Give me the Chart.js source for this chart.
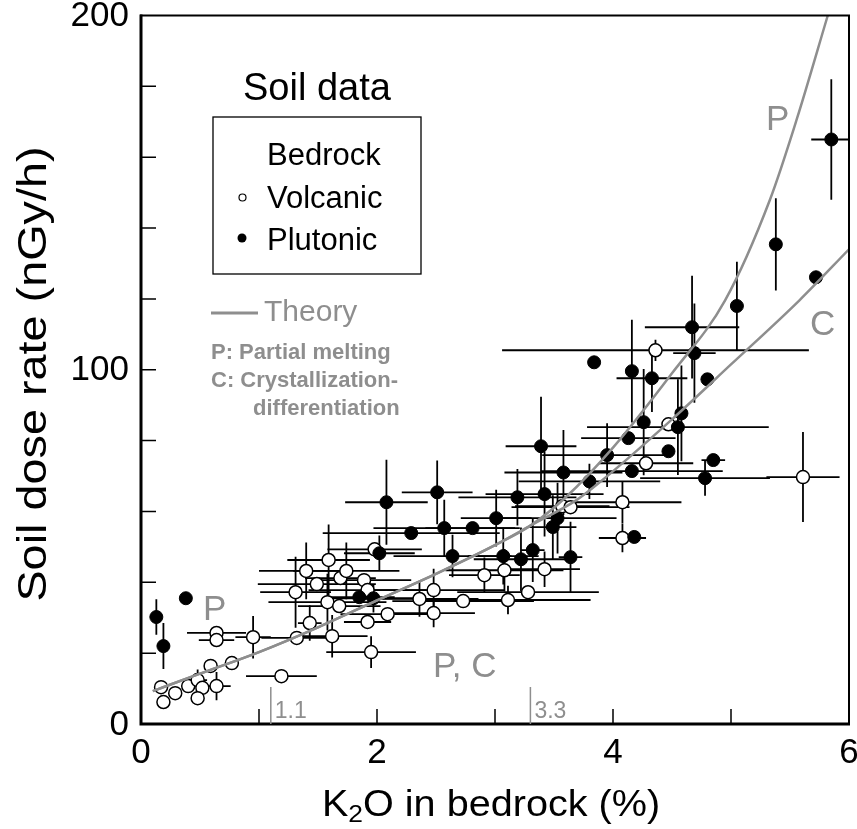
<!DOCTYPE html>
<html>
<head>
<meta charset="utf-8">
<script src="https://cdn.jsdelivr.net/npm/chart.js@4"></script>
<style>
  html, body { margin: 0; padding: 0; background: #fff; }
  #wrap { width: 857px; height: 829px; }
</style>
</head>
<body>
<div id="wrap"><canvas id="soil" width="857" height="829"></canvas></div>
<script>
// volcanic bedrock (open circles)
const volcanicX = [0.17, 0.19, 0.29, 0.40, 0.48, 0.52, 0.48, 0.64, 0.59, 0.77, 0.64, 0.64, 0.95, 1.19, 1.32, 1.31, 1.43, 1.40, 1.49, 1.59,
  1.58, 1.62, 1.68, 1.69, 1.74, 1.89, 1.92, 1.92, 1.95, 1.98, 2.09, 2.36, 2.48, 2.48, 2.73, 2.91, 3.08, 3.11, 3.28, 3.42,
  3.57, 3.64, 4.08, 4.08, 4.28, 4.47, 4.36, 5.61];
const volcanicY = [10.4, 6.2, 8.7, 10.7, 12.4, 10.2, 7.3, 10.7, 16.4, 17.2, 25.7, 23.7, 24.5, 13.5, 24.3, 37.2, 28.5, 43.2, 39.5, 46.3,
  34.4, 24.8, 33.3, 41.2, 43.2, 40.6, 37.8, 28.8, 20.3, 49.3, 31.0, 35.3, 37.8, 31.3, 34.7, 42.0, 43.4, 35.0, 37.2, 43.7,
  61.5, 61.2, 62.6, 52.5, 73.6, 84.6, 105.5, 69.7];
const volcanicXErr = [0.05, 0, 0, 0, 0.08, 0, 0, 0.12, 0, 0, 0.25, 0.15, 0.15, 0.3, 0.3, 0.3, 0.1, 0.4, 0.5, 0.35,
  0.5, 0.3, 0.35, 0.3, 0.45, 0.4, 0.5, 0.2, 0.38, 0.4, 0.4, 0.5, 0.6, 0.35, 0.6, 0.3, 0.5, 0.7, 0.6, 0.3,
  0.4, 0.5, 0.5, 0.2, 0.4, 0, 1.3, 0.31];
const volcanicYErr = [0, 0, 0, 0, 3, 0, 0, 4, 0, 0, 0, 0, 6, 0, 0, 10, 5, 8, 0, 10,
  8, 6, 0, 0, 8, 0, 0, 0, 4.5, 0, 0, 5, 6, 4, 0, 5, 6, 4, 0, 5,
  0, 0, 6, 4, 0, 0, 3, 12.7];

// plutonic bedrock (filled circles)
const plutonicX = [0.13, 0.19, 0.38, 1.85, 1.97, 2.02, 2.08, 2.29, 2.51, 2.57, 2.64, 2.81, 3.01, 3.07, 3.22, 3.32, 3.19, 3.42, 3.39, 3.49,
  3.53, 3.58, 3.64, 3.80, 3.84, 3.95, 4.16, 4.13, 4.16, 4.18, 4.26, 4.33, 4.47, 4.55, 4.58, 4.67, 4.69, 4.78, 4.80, 4.85,
  5.05, 5.38, 5.72, 5.85];
const plutonicY = [30.2, 22.0, 35.5, 35.8, 35.5, 48.2, 62.6, 53.9, 65.4, 55.3, 47.4, 55.3, 58.1, 47.4, 46.5, 49.1, 64.0, 64.9, 78.4, 55.6,
  58.1, 71.0, 47.1, 68.5, 102.1, 75.9, 71.4, 80.7, 99.6, 52.8, 85.2, 97.6, 77.0, 83.8, 87.7, 112.0, 104.7, 69.4, 97.3, 74.5,
  118.0, 135.4, 126.1, 165.0];
const plutonicXErr = [0, 0, 0, 0.3, 0.4, 0.3, 0.35, 0.75, 0.3, 0.6, 0.5, 0.4, 0.3, 0.3, 0.4, 0.1, 0.5, 0.5, 0.3, 0.2,
  0.5, 0.5, 0.1, 0.6, 0, 0.55, 0.77, 0.4, 0, 0, 0, 0.3, 0, 0.77, 0, 0.4, 0.18, 0.55, 0, 0.1,
  0, 0, 0, 0.17];
const plutonicYErr = [5, 6.5, 0, 0, 4, 5, 12, 0, 9, 8, 6, 0, 8, 8, 9, 9, 8, 12, 14, 9,
  10, 12, 10, 5, 0, 9, 0, 0, 14.5, 0, 15, 9.5, 0, 13.5, 13.5, 14.5, 14, 5, 0, 0,
  12.5, 13, 0, 17];

// theory curves (common part up to 3.3 %)
const commonX = [0.1, 0.5, 1.0, 1.5, 2.0, 2.5, 3.0, 3.3];
const commonY = [9.3, 14.2, 20.3, 27.3, 34.9, 42.4, 50.5, 56];
const meltX = [3.6, 4.0, 4.5, 4.95, 5.33, 5.56, 5.82];
const meltY = [64, 78, 99, 119.6, 148, 171, 200];
const crystX = [3.69, 3.89, 4.5, 5.0, 5.58, 6.0];
const crystY = [63.2, 68.3, 86, 101.5, 119.6, 134];

const xLabelTicks = [0, 2, 4, 6];
const yLabelTicks = [0, 100, 200];
const xMinorTicks = [1, 2, 3, 4, 5];
const yMinorTicks = [20, 40, 60, 80, 100, 120, 140, 160, 180];
const markX = [1.1, 3.3];
const markLabels = ['1.1', '3.3'];

const GREY = '#8e8e8e';
const FONT = '"Liberation Sans", Arial, sans-serif';

function toPoints(xs, ys) {
  return xs.map((x, i) => ({ x: x, y: ys[i] }));
}

const meltPts = toPoints(commonX.concat(meltX), commonY.concat(meltY));
const crystPts = toPoints(commonX.concat(crystX), commonY.concat(crystY));

const errorBars = {
  id: 'errorBars',
  beforeDatasetsDraw(chart) {
    const ctx = chart.ctx;
    const xs = chart.scales.x, ys = chart.scales.y;
    const a = chart.chartArea;
    const sets = [
      [volcanicX, volcanicY, volcanicXErr, volcanicYErr],
      [plutonicX, plutonicY, plutonicXErr, plutonicYErr],
    ];
    ctx.save();
    ctx.beginPath();
    ctx.rect(a.left, a.top, a.right - a.left, a.bottom - a.top);
    ctx.clip();
    ctx.strokeStyle = '#000';
    ctx.lineWidth = 1.8;
    sets.forEach(([X, Y, EX, EY]) => {
      X.forEach((x, i) => {
        const px = xs.getPixelForValue(x), py = ys.getPixelForValue(Y[i]);
        ctx.beginPath();
        if (EX[i] > 0) {
          ctx.moveTo(xs.getPixelForValue(x - EX[i]), py);
          ctx.lineTo(xs.getPixelForValue(x + EX[i]), py);
        }
        if (EY[i] > 0) {
          ctx.moveTo(px, ys.getPixelForValue(Y[i] - EY[i]));
          ctx.lineTo(px, ys.getPixelForValue(Y[i] + EY[i]));
        }
        ctx.stroke();
      });
    });
    ctx.restore();
  },
};

const decorations = {
  id: 'decorations',
  afterDraw(chart) {
    const ctx = chart.ctx;
    const xs = chart.scales.x, ys = chart.scales.y;
    const a = chart.chartArea;
    ctx.save();

    // frame
    ctx.strokeStyle = '#000';
    ctx.lineWidth = 2;
    ctx.strokeRect(a.left, a.top, a.right - a.left, a.bottom - a.top);
    ctx.lineWidth = 3;
    ctx.beginPath();
    ctx.moveTo(a.left, a.top - 1);
    ctx.lineTo(a.left, a.bottom);
    ctx.lineTo(a.right + 1, a.bottom);
    ctx.stroke();

    // inward ticks
    ctx.lineWidth = 1.5;
    ctx.beginPath();
    xMinorTicks.forEach((v) => {
      const px = xs.getPixelForValue(v);
      ctx.moveTo(px, a.bottom);
      ctx.lineTo(px, a.bottom - 15);
    });
    yMinorTicks.forEach((v) => {
      const py = ys.getPixelForValue(v);
      ctx.moveTo(a.left, py);
      ctx.lineTo(a.left + 15, py);
    });
    ctx.stroke();

    // tick labels
    ctx.fillStyle = '#000';
    ctx.font = '35px ' + FONT;
    ctx.textBaseline = 'middle';
    ctx.textAlign = 'center';
    xLabelTicks.forEach((v) => {
      ctx.fillText(String(v), xs.getPixelForValue(v), a.bottom + 29);
    });
    ctx.textAlign = 'right';
    yLabelTicks.forEach((v) => {
      ctx.fillText(String(v), a.left - 12, ys.getPixelForValue(v) + 1);
    });

    // 1.1 / 3.3 markers
    ctx.strokeStyle = GREY;
    ctx.fillStyle = GREY;
    ctx.lineWidth = 1.5;
    ctx.font = '23px ' + FONT;
    ctx.textBaseline = 'alphabetic';
    ctx.textAlign = 'left';
    markX.forEach((v, i) => {
      const px = xs.getPixelForValue(v);
      ctx.beginPath();
      ctx.moveTo(px, a.bottom - 37);
      ctx.lineTo(px, a.bottom);
      ctx.stroke();
      ctx.fillText(markLabels[i], px + 4, a.bottom - 6);
    });

    // curve labels
    ctx.font = '35px ' + FONT;
    ctx.fillText('P', 203, 620);
    ctx.fillText('P, C', 433, 677);
    ctx.fillText('P', 766, 130);
    ctx.fillText('C', 810, 335);

    // legend
    ctx.fillStyle = '#000';
    ctx.font = '38px ' + FONT;
    ctx.fillText('Soil data', 243, 100);
    ctx.lineWidth = 1.3;
    ctx.strokeStyle = '#000';
    ctx.strokeRect(213, 117, 208, 157);
    ctx.font = '31px ' + FONT;
    ctx.fillText('Bedrock', 267, 165);
    ctx.fillText('Volcanic', 267, 208);
    ctx.fillText('Plutonic', 267, 250);
    ctx.beginPath();
    ctx.arc(242.5, 197.5, 3.5, 0, Math.PI * 2);
    ctx.fillStyle = '#fff';
    ctx.fill();
    ctx.lineWidth = 1.2;
    ctx.stroke();
    ctx.beginPath();
    ctx.arc(242, 238, 4.5, 0, Math.PI * 2);
    ctx.fillStyle = '#000';
    ctx.fill();

    ctx.strokeStyle = GREY;
    ctx.fillStyle = GREY;
    ctx.lineWidth = 3;
    ctx.beginPath();
    ctx.moveTo(211, 313);
    ctx.lineTo(258, 313);
    ctx.stroke();
    ctx.font = '30px ' + FONT;
    ctx.fillText('Theory', 264, 321);
    ctx.font = 'bold 22px ' + FONT;
    ctx.fillText('P: Partial melting', 211, 359);
    ctx.fillText('C: Crystallization-', 211, 387);
    ctx.fillText('differentiation', 253, 415);

    // axis titles
    ctx.fillStyle = '#000';
    ctx.font = '40px ' + FONT;
    ctx.save();
    ctx.translate(46, 374);
    ctx.rotate(-Math.PI / 2);
    ctx.scale(1.17, 1);
    ctx.textAlign = 'center';
    ctx.fillText('Soil dose rate (nGy/h)', 0, 0);
    ctx.restore();

    const big = '36px ' + FONT, small = '24px ' + FONT;
    ctx.save();
    ctx.translate(491, 816);
    ctx.scale(1.1, 1);
    ctx.font = big;
    const wK = ctx.measureText('K').width;
    const wRest = ctx.measureText('O in bedrock (%)').width;
    ctx.font = small;
    const w2 = ctx.measureText('2').width;
    const x0 = -(wK + w2 + wRest) / 2;
    ctx.textAlign = 'left';
    ctx.font = big;
    ctx.fillText('K', x0, 0);
    ctx.font = small;
    ctx.fillText('2', x0 + wK, 6);
    ctx.font = big;
    ctx.fillText('O in bedrock (%)', x0 + wK + w2, 0);
    ctx.restore();

    ctx.restore();
  },
};

new Chart(document.getElementById('soil'), {
  type: 'scatter',
  data: {
    datasets: [
      {
        label: 'P',
        type: 'line',
        data: meltPts,
        borderColor: GREY,
        borderWidth: 2.5,
        pointRadius: 0,
        fill: false,
        cubicInterpolationMode: 'monotone',
        order: 0,
      },
      {
        label: 'C',
        type: 'line',
        data: crystPts,
        borderColor: GREY,
        borderWidth: 2.5,
        pointRadius: 0,
        fill: false,
        cubicInterpolationMode: 'monotone',
        order: 0,
      },
      {
        label: 'Plutonic',
        data: toPoints(plutonicX, plutonicY),
        pointRadius: 6.5,
        backgroundColor: '#000',
        borderColor: '#000',
        borderWidth: 1,
        order: 1,
      },
      {
        label: 'Volcanic',
        data: toPoints(volcanicX, volcanicY),
        pointRadius: 6.5,
        backgroundColor: '#fff',
        borderColor: '#000',
        borderWidth: 1.5,
        order: 2,
      },
    ],
  },
  options: {
    responsive: false,
    animation: false,
    events: [],
    layout: { padding: { top: 15.5, right: 8, left: 0, bottom: 0 } },
    plugins: { legend: { display: false }, tooltip: { enabled: false } },
    scales: {
      x: {
        type: 'linear',
        min: 0,
        max: 6,
        grid: { display: false, drawTicks: false },
        border: { display: false },
        ticks: { display: false },
        afterFit: (s) => { s.height = 105; },
      },
      y: {
        type: 'linear',
        min: 0,
        max: 200,
        grid: { display: false, drawTicks: false },
        border: { display: false },
        ticks: { display: false },
        afterFit: (s) => { s.width = 141; },
      },
    },
  },
  plugins: [errorBars, decorations],
});
</script>
</body>
</html>
